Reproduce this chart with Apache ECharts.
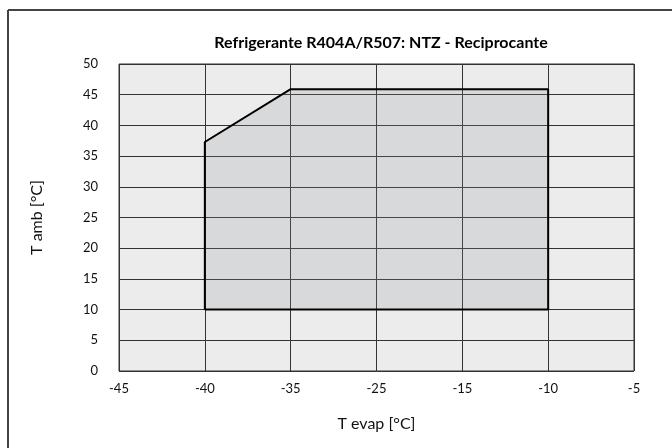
<!DOCTYPE html>
<html>
<head>
<meta charset="utf-8">
<script src="https://cdn.jsdelivr.net/npm/echarts@6/dist/echarts.min.js"></script>
<style>
  html, body { margin: 0; padding: 0; background: #fff; }
  #chart { width: 672px; height: 448px; }
</style>
</head>
<body>
<div id="chart"></div>
<script>
  // x tick labels (equally spaced, not linear)
  var xLabels = ['-45', '-40', '-35', '-25', '-15', '-10', '-5'];
  // envelope outline: T evap / T amb
  var envEvap = [-40, -40, -35, -10, -10, -40];
  var envAmb  = [10, 37.3, 45.9, 45.9, 10, 10];

  var chart = echarts.init(document.getElementById('chart'));
  var font = 'Lato';

  // map evap temperature onto tick index
  var envData = envEvap.map(function (t, i) {
    return [xLabels.indexOf(String(t)), envAmb[i]];
  });

  var option = {
    animation: false,
    backgroundColor: '#fff',
    title: {
      text: 'Refrigerante R404A/R507: NTZ - Reciprocante',
      left: 376, top: 30, textAlign: 'center',
      textStyle: { fontFamily: font, fontSize: 16, fontWeight: 'bold', color: '#000' }
    },
    grid: { left: 119, right: 38, top: 64, bottom: 77, show: true, backgroundColor: '#ececec', borderColor: '#333', borderWidth: 1 },
    xAxis: {
      type: 'value', min: 0, max: xLabels.length - 1, interval: 1,
      name: 'T evap [°C]', nameLocation: 'middle', nameGap: 45,
      nameTextStyle: { fontFamily: font, fontSize: 16, color: '#111' },
      axisLine: { show: false }, axisTick: { show: false },
      axisLabel: { fontFamily: font, fontSize: 13, color: '#111', margin: 11,
        formatter: function (v) { return xLabels[v]; } },
      splitLine: { show: true, lineStyle: { color: '#333', width: 1 } }
    },
    yAxis: {
      type: 'value', min: 0, max: 50, interval: 5,
      name: 'T amb [°C]', nameLocation: 'middle', nameGap: 74,
      nameTextStyle: { fontFamily: font, fontSize: 16, color: '#111' },
      axisLine: { show: false }, axisTick: { show: false },
      axisLabel: { fontFamily: font, fontSize: 13, color: '#111', margin: 21 },
      splitLine: { show: true, lineStyle: { color: '#333', width: 1 } }
    },
    series: [{
      type: 'line', data: envData, symbol: 'none', z: 1,
      lineStyle: { color: '#000', width: 2 },
      // translucent fill so the grid lines stay visible through it
      areaStyle: { color: 'rgb(141,146,156)', opacity: 0.2, origin: 'start' }
    }],
    graphic: [
      { type: 'line', shape: { x1: 8, y1: 10, x2: 672, y2: 10 }, style: { stroke: '#444', lineWidth: 2 } },
      { type: 'line', shape: { x1: 8, y1: 10, x2: 8, y2: 448 }, style: { stroke: '#444', lineWidth: 2 } }
    ]
  };
  chart.setOption(option);
</script>
</body>
</html>
